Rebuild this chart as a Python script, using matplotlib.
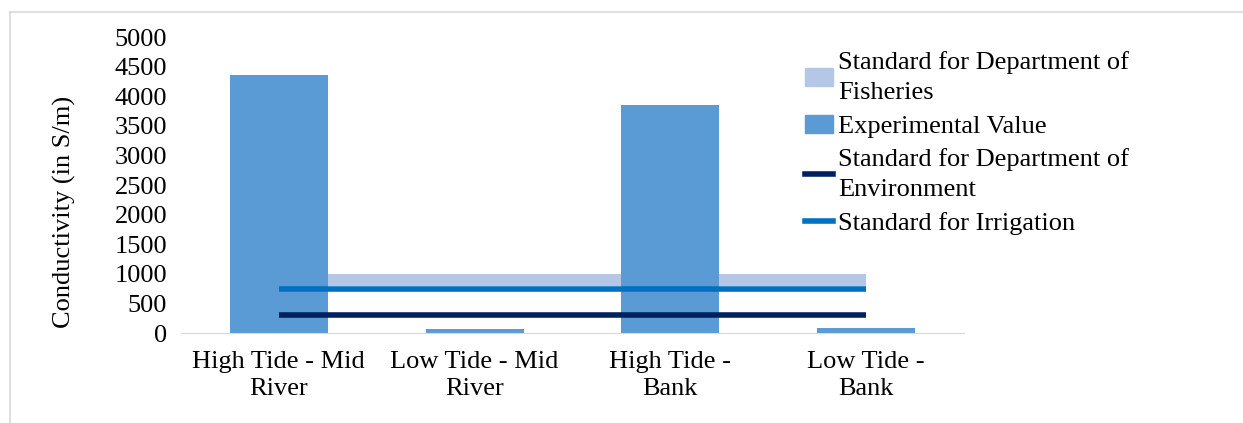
import numpy as np
import matplotlib.pyplot as plt
from matplotlib.lines import Line2D
from matplotlib.patches import Patch

plt.rcParams['font.family'] = ['Liberation Serif', 'DejaVu Serif']

# data
sites = ['High Tide - Mid\nRiver', 'Low Tide - Mid\nRiver', 'High Tide -\nBank', 'Low Tide -\nBank']
experimental = [4360, 65, 3850, 90]
fisheries_low = [800, 800, 800, 800]
fisheries_high = [1000, 1000, 1000, 1000]
environment = [300, 300, 300, 300]
irrigation = [750, 750, 750, 750]

x = np.arange(len(sites))

fig = plt.figure(figsize=(12.43, 4.23), dpi=100)
ax = fig.add_axes([181 / 1243, 90 / 423, 783 / 1243, 296 / 423])

ax.fill_between(x, fisheries_low, fisheries_high, color='#B4C7E7', lw=0, zorder=1)
ax.bar(x, experimental, width=0.5, color='#5B9BD5', zorder=2)
ax.plot(x, environment, color='#002060', lw=4, zorder=3, solid_capstyle='butt')
ax.plot(x, irrigation, color='#0070C0', lw=4, zorder=3, solid_capstyle='butt')

ax.set_xlim(-0.5, 3.5)
ax.set_ylim(0, 5000)
ax.set_yticks(np.arange(0, 5001, 500))
ax.set_xticks(x)
ax.set_xticklabels(sites, fontsize=19, linespacing=1.3)
ax.tick_params(axis='y', length=0, pad=10, labelsize=19)
ax.tick_params(axis='x', length=0, pad=13)
for s in ['top', 'right', 'left']:
    ax.spines[s].set_visible(False)
ax.spines['bottom'].set_color('#D9D9D9')
ax.set_ylabel('Conductivity (in S/m)', fontsize=19)
ax.yaxis.set_label_coords(-0.134, 0.41)

handles = [
    Patch(color='#B4C7E7'),
    Patch(color='#5B9BD5'),
    Line2D([], [], color='#002060', lw=4),
    Line2D([], [], color='#0070C0', lw=4),
]
labels = [
    'Standard for Department of\nFisheries',
    'Experimental Value',
    'Standard for Department of\nEnvironment',
    'Standard for Irrigation',
]
leg = fig.legend(handles, labels, loc='upper left', bbox_to_anchor=(805 / 1243, 1 - 51 / 423),
                 frameon=False, fontsize=19, handlelength=1.05, handleheight=0.7,
                 handletextpad=0.2, labelspacing=0.38, borderpad=0, borderaxespad=0)
for t in leg.get_texts():
    t.set_linespacing(1.5)

# thin grey frame around the chart area
fig.add_artist(Line2D([10 / 1243, 10 / 1243], [0, 1 - 12 / 423], color='#D9D9D9', lw=1.2))
fig.add_artist(Line2D([10 / 1243, 1], [1 - 12 / 423, 1 - 12 / 423], color='#D9D9D9', lw=1.2))

fig.savefig('out.png', dpi=100)
